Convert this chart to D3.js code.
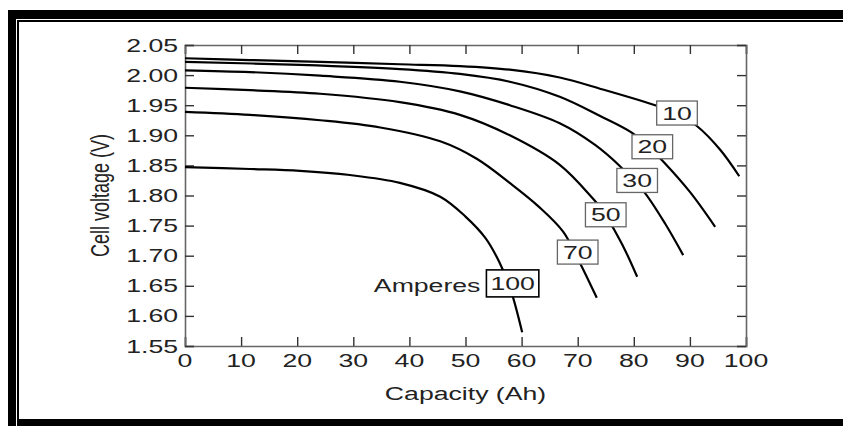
<!DOCTYPE html>
<html><head><meta charset="utf-8">
<script src="https://cdn.jsdelivr.net/npm/d3@7/dist/d3.min.js"></script>
<style>html,body{margin:0;padding:0;background:#fff;}svg{display:block;}</style>
</head><body>
<script>
// ---- data ----
const xTicks = [0,10,20,30,40,50,60,70,80,90,100];
const yTicks = [1.55,1.60,1.65,1.70,1.75,1.80,1.85,1.90,1.95,2.00,2.05];
const seriesNames = ["10","20","30","50","70","100"];
const cap10  = [0,11.6,24.1,38.3,49.0,57.9,66.8,74.5,83.8,87.7,91.3,95.4,98.8];
const volt10 = [2.028,2.025,2.022,2.018,2.015,2.009,1.996,1.976,1.950,1.937,1.915,1.876,1.832];
const cap20  = [0,20.5,38.3,49.0,57.9,66.8,74.0,79.7,82.5,85.2,90.0,94.5];
const volt20 = [2.022,2.017,2.010,2.002,1.989,1.964,1.932,1.904,1.882,1.857,1.806,1.748];
const cap30  = [0,11.6,24.1,38.3,49.0,57.9,66.8,73.1,77.5,79.7,82.0,85.6,88.8];
const volt30 = [2.008,2.005,1.999,1.989,1.973,1.950,1.920,1.884,1.849,1.827,1.804,1.753,1.701];
const cap50  = [0,11.6,24.1,38.3,49.0,57.9,66.8,72.7,74.9,76.1,78.4,80.6];
const volt50 = [1.979,1.975,1.969,1.955,1.934,1.900,1.851,1.795,1.770,1.750,1.710,1.665];
const cap70  = [0,11.6,24.1,34.8,45.5,52.0,58.0,63.0,67.4,70.4,73.4];
const volt70 = [1.939,1.934,1.925,1.913,1.890,1.861,1.820,1.782,1.740,1.688,1.630];
const cap100  = [0,11.6,20.5,29.4,38.3,45.5,50.0,53.5,56.0,58.0,60.1];
const volt100 = [1.847,1.844,1.841,1.834,1.821,1.798,1.765,1.730,1.690,1.645,1.573];
const labelCap  = [87.7,83.3,80.6,75.0,70.0,58.4];
const labelVolt = [1.937,1.881,1.825,1.768,1.706,1.654];
const xTitle = "Capacity (Ah)";
const yTitle = "Cell voltage (V)";
const unitText = "Amperes";

const seriesCap = [cap10,cap20,cap30,cap50,cap70,cap100];
const seriesVolt = [volt10,volt20,volt30,volt50,volt70,volt100];

// ---- layout ----
const W = 843, H = 426;
const L = 185, R = 746, T = 45, B = 346;
const SX = 1.48; // horizontal stretch of the original image
const FONT = "'Liberation Sans', Arial, Helvetica, sans-serif";

const svg = d3.select("body").append("svg").attr("width", W).attr("height", H);

// frame
svg.append("rect").attr("x",8).attr("y",10).attr("width",W-8).attr("height",9).attr("fill","#000");
svg.append("rect").attr("x",8).attr("y",10).attr("width",8).attr("height",H-10).attr("fill","#000");
svg.append("rect").attr("x",17).attr("y",20).attr("width",W-17).attr("height",2).attr("fill","#000");
svg.append("rect").attr("x",17).attr("y",20).attr("width",2).attr("height",H-20).attr("fill","#000");
svg.append("rect").attr("x",17).attr("y",419).attr("width",W-17).attr("height",7).attr("fill","#000");

const x = d3.scaleLinear().domain([0,100]).range([L,R]);
const y = d3.scaleLinear().domain([1.55,2.05]).range([B,T]);

function sText(parent, px, py, txt, anchor, size, rot) {
  const g = parent.append("g").attr("transform",
    `translate(${px},${py}) scale(${SX},1)` + (rot ? ` rotate(${rot})` : ""));
  return g.append("text").attr("text-anchor", anchor).attr("font-family", FONT)
    .attr("font-size", size).attr("fill", "#222").text(txt);
}

// axes with inward ticks
const tickLen = 9;
const axB = svg.append("g").attr("transform",`translate(0,${B})`)
  .call(d3.axisBottom(x).tickValues(xTicks).tickSize(-tickLen).tickFormat(""));
const axT = svg.append("g").attr("transform",`translate(0,${T})`)
  .call(d3.axisTop(x).tickValues(xTicks).tickSize(-tickLen).tickFormat(""));
const axL = svg.append("g").attr("transform",`translate(${L},0)`)
  .call(d3.axisLeft(y).tickValues(yTicks).tickSize(-tickLen).tickFormat(""));
const axR = svg.append("g").attr("transform",`translate(${R},0)`)
  .call(d3.axisRight(y).tickValues(yTicks).tickSize(-tickLen).tickFormat(""));
[axB,axT,axL,axR].forEach(a => {
  a.select(".domain").attr("stroke","#666").attr("stroke-width",1.6);
  a.selectAll(".tick line").attr("stroke","#333").attr("stroke-width",1.4);
});

// tick labels
xTicks.forEach(v => sText(svg, x(v), B + 21, String(v), "middle", 18));
yTicks.forEach(v => sText(svg, L - 7, y(v) + 6.5, v.toFixed(2), "end", 18));

// axis titles
sText(svg, (L+R)/2, 400, xTitle, "middle", 18);
sText(svg, 109, (T+B)/2, yTitle, "middle", 18, -90);

// curves
const line = d3.line().x(d => x(d[0])).y(d => y(d[1])).curve(d3.curveCatmullRom.alpha(0.5));
seriesNames.forEach((name, i) => {
  const pts = seriesCap[i].map((c, j) => [c, seriesVolt[i][j]]);
  svg.append("path").datum(pts).attr("d", line).attr("fill","none")
    .attr("stroke","#000").attr("stroke-width",2.2).attr("stroke-linejoin","round");
});

// label boxes
seriesNames.forEach((name, i) => {
  const cx = x(labelCap[i]), cy = y(labelVolt[i]);
  const g = svg.append("g");
  const rect = g.append("rect");
  const t = sText(g, cx, cy + 6.5, name, "middle", 18);
  const w = t.node().getComputedTextLength() * SX + (name === "100" ? 8 : 11);
  const h = name === "100" ? 27 : 24;
  rect.attr("x", cx - w/2).attr("y", cy - h/2).attr("width", w).attr("height", h)
    .attr("fill","#fff")
    .attr("stroke", name === "100" ? "#000" : "#666")
    .attr("stroke-width", name === "100" ? 1.6 : 1.3);
  if (name === "100") {
    sText(svg, cx - w/2 - 6, cy + 9, unitText, "end", 18);
  }
});
</script>
</body></html>
